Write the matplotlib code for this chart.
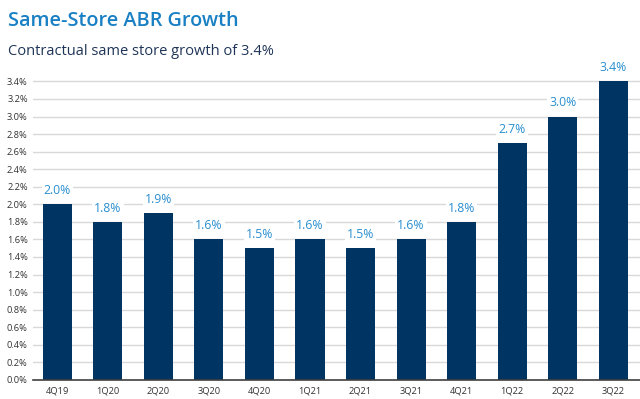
import matplotlib.pyplot as plt
import numpy as np

quarters = ['4Q19', '1Q20', '2Q20', '3Q20', '4Q20', '1Q21', '2Q21', '3Q21', '4Q21', '1Q22', '2Q22', '3Q22']
growth = [2.0, 1.8, 1.9, 1.6, 1.5, 1.6, 1.5, 1.6, 1.8, 2.7, 3.0, 3.4]
yticks = np.arange(0, 3.41, 0.2)

plt.rcParams['font.family'] = ['Open Sans', 'DejaVu Sans']

fig = plt.figure(figsize=(6.4, 3.99), dpi=100)
ax = fig.add_axes([0.052, 0.048, 0.948, 0.77])

x = np.arange(len(quarters))
ax.bar(x, growth, width=0.575, color='#003463', zorder=2)
for xi, v in zip(x, growth):
    ax.text(xi, v + 0.08, f'{v:.1f}%', ha='center', va='bottom', fontsize=8.8,
            color='#2a8fd0', zorder=3,
            bbox=dict(facecolor='white', edgecolor='none', pad=1.5))

ax.set_xlim(-0.475, len(quarters) - 0.47)
ax.set_ylim(0, 3.5)
ax.set_yticks(yticks)
ax.set_yticklabels([f'{t:.1f}%' for t in yticks], fontsize=6.7, color='#333333')
ax.set_xticks(x)
ax.set_xticklabels(quarters, fontsize=6.7, color='#333333')
ax.tick_params(axis='both', length=0, pad=5)
ax.tick_params(axis='y', pad=4)
ax.yaxis.grid(True, color='#d9d9d9', linewidth=1, zorder=0)
ax.set_axisbelow(True)
for s in ['top', 'right', 'left']:
    ax.spines[s].set_visible(False)
ax.spines['bottom'].set_color('#404040')
ax.spines['bottom'].set_linewidth(1.2)

fig.text(0.012, 0.948, 'Same-Store ABR Growth', fontsize=14.3, fontweight='semibold',
         color='#1a80c4', va='center')
fig.text(0.012, 0.872, 'Contractual same store growth of 3.4%', fontsize=10.5,
         color='#1f3557', va='center')

fig.savefig('out.png', dpi=100)
